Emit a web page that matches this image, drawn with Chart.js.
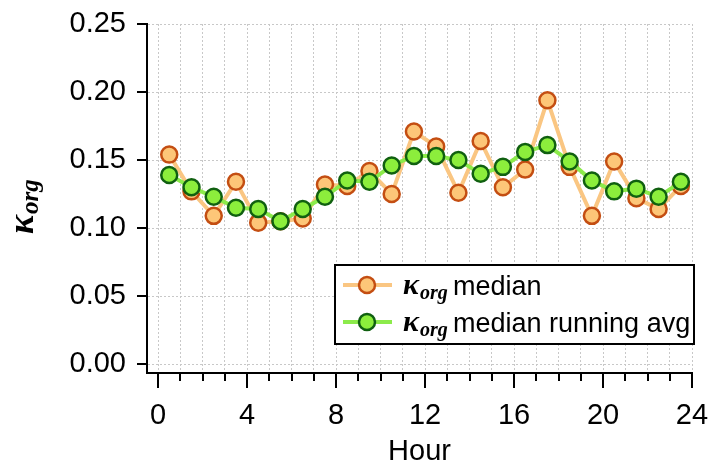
<!DOCTYPE html>
<html>
<head>
<meta charset="utf-8">
<script src="https://cdn.jsdelivr.net/npm/chart.js@4/dist/chart.umd.min.js"></script>
<style>
  html, body { margin: 0; padding: 0; background: #fff; }
  #wrap { width: 711px; height: 465px; position: relative; }
</style>
</head>
<body>
<div id="wrap"><canvas id="myChart"></canvas></div>
<script>
const hours = [0.5, 1.5, 2.5, 3.5, 4.5, 5.5, 6.5, 7.5, 8.5, 9.5, 10.5, 11.5,
               12.5, 13.5, 14.5, 15.5, 16.5, 17.5, 18.5, 19.5, 20.5, 21.5, 22.5, 23.5];
const kappaMedian = [0.154, 0.127, 0.109, 0.134, 0.104, 0.105, 0.107, 0.132, 0.131, 0.142, 0.125, 0.171,
                     0.160, 0.126, 0.164, 0.130, 0.143, 0.194, 0.145, 0.109, 0.149, 0.122, 0.114, 0.131];
const kappaRunningAvg = [0.139, 0.130, 0.123, 0.115, 0.114, 0.105, 0.114, 0.123, 0.135, 0.134, 0.146, 0.153,
                         0.153, 0.150, 0.140, 0.145, 0.156, 0.161, 0.149, 0.135, 0.127, 0.129, 0.123, 0.134];
const xTicks = [0, 1, 2, 3, 4, 5, 6, 7, 8, 9, 10, 11, 12, 13, 14, 15, 16, 17, 18, 19, 20, 21, 22, 23, 24];
const yTicks = [0, 0.05, 0.10, 0.15, 0.20, 0.25];
const legendNames = ['median', 'median running avg'];

const sansFont = "'Liberation Sans', Arial, sans-serif";
const serifFont = "'Liberation Serif', 'Times New Roman', serif";

const orange = { line: 'rgb(250,198,130)', fill: 'rgb(253,198,120)', edge: 'rgb(196,78,18)' };
const green = { line: 'rgb(140,235,75)', fill: 'rgb(140,238,60)', edge: 'rgb(16,96,16)' };

function toPoints(xs, ys) {
    return xs.map((x, i) => ({ x: x, y: ys[i] }));
}

// kappa with "org" subscript, drawn on the canvas
function drawKappa(ctx, x, y, big, small) {
    ctx.font = 'italic bold ' + big + 'px ' + serifFont;
    ctx.fillText('\u03BA', x, y);
    const w = ctx.measureText('\u03BA').width;
    ctx.font = 'italic bold ' + small + 'px ' + serifFont;
    ctx.fillText('org', x + w + 1, y + 5);
    return w + 1 + ctx.measureText('org').width;
}

const axisExtras = {
    id: 'axisExtras',
    afterDraw(chart) {
        const ctx = chart.ctx;
        const xs = chart.scales.x;
        const ys = chart.scales.y;
        const area = chart.chartArea;
        ctx.save();
        ctx.strokeStyle = '#000';
        ctx.lineWidth = 2;
        ctx.beginPath();
        yTicks.forEach(v => {
            const py = Math.round(ys.getPixelForValue(v));
            ctx.moveTo(area.left - 10, py);
            ctx.lineTo(area.left, py);
        });
        xTicks.forEach(v => {
            const px = Math.round(xs.getPixelForValue(v));
            ctx.moveTo(px, area.bottom);
            ctx.lineTo(px, area.bottom + (v % 4 === 0 ? 15 : 8));
        });
        ctx.stroke();

        // y title
        ctx.fillStyle = '#000';
        ctx.textBaseline = 'alphabetic';
        ctx.translate(33, 234);
        ctx.rotate(-Math.PI / 2);
        drawKappa(ctx, 0, 0, 36, 25);
        ctx.restore();

        // legend box
        ctx.save();
        const bx = 335, by = area.bottom - 108, bw = area.right + 2 - 335, bh = 79;
        ctx.fillStyle = '#fff';
        ctx.fillRect(bx, by, bw, bh);
        ctx.strokeStyle = '#000';
        ctx.lineWidth = 2;
        ctx.strokeRect(bx, by, bw, bh);
        const styles = [orange, green];
        styles.forEach((st, i) => {
            const cy = by + 20 + i * 37;
            ctx.strokeStyle = st.line;
            ctx.lineWidth = 4;
            ctx.beginPath();
            ctx.moveTo(bx + 8, cy);
            ctx.lineTo(bx + 57, cy);
            ctx.stroke();
            ctx.beginPath();
            ctx.arc(bx + 32, cy, 8, 0, Math.PI * 2);
            ctx.fillStyle = st.fill;
            ctx.fill();
            ctx.lineWidth = 2.5;
            ctx.strokeStyle = st.edge;
            ctx.stroke();
            ctx.fillStyle = '#000';
            ctx.textBaseline = 'alphabetic';
            drawKappa(ctx, bx + 68, cy + 9, 30, 20);
            ctx.font = '27px ' + sansFont;
            ctx.fillText(legendNames[i], bx + 118, cy + 10);
        });
        ctx.restore();
    }
};

const ctx = document.getElementById('myChart').getContext('2d');

const myChart = new Chart(ctx, {
    type: 'line',
    data: {
        datasets: [{
            label: legendNames[0],
            data: toPoints(hours, kappaMedian),
            borderColor: orange.line,
            borderWidth: 4,
            pointBackgroundColor: orange.fill,
            pointBorderColor: orange.edge,
            pointBorderWidth: 2.5,
            pointRadius: 8,
            order: 2
        }, {
            label: legendNames[1],
            data: toPoints(hours, kappaRunningAvg),
            borderColor: green.line,
            borderWidth: 4,
            pointBackgroundColor: green.fill,
            pointBorderColor: green.edge,
            pointBorderWidth: 2.5,
            pointRadius: 8,
            order: 1
        }]
    },
    options: {
        responsive: true,
        maintainAspectRatio: false,
        animation: false,
        events: [],
        layout: { padding: { top: 24, right: 19, left: 0, bottom: 0 } },
        plugins: {
            legend: { display: false },
            tooltip: { enabled: false }
        },
        scales: {
            x: {
                type: 'linear',
                min: -0.5,
                max: 24,
                afterBuildTicks: scale => { scale.ticks = xTicks.map(v => ({ value: v })); },
                afterFit: scale => {
                    scale.height = 92;
                    scale.paddingLeft = 0;
                    scale.paddingRight = 0;
                },
                grid: { color: '#c8c8c8', drawTicks: false, lineWidth: 1 },
                border: { display: true, color: '#000', width: 2, dash: [2, 2] },
                ticks: {
                    autoSkip: false,
                    maxRotation: 0,
                    padding: 26,
                    color: '#000',
                    font: { family: sansFont, size: 29 },
                    callback: v => (v % 4 === 0 ? String(v) : '')
                },
                title: {
                    display: true,
                    text: 'Hour',
                    color: '#000',
                    font: { family: sansFont, size: 29, lineHeight: 0.8 },
                    padding: { top: 0, bottom: 1 }
                }
            },
            y: {
                min: -0.0065,
                max: 0.25,
                afterBuildTicks: scale => { scale.ticks = yTicks.map(v => ({ value: v })); },
                afterFit: scale => {
                    scale.width = 147;
                    scale.paddingTop = 0;
                    scale.paddingBottom = 0;
                },
                grid: { color: '#c8c8c8', drawTicks: false, lineWidth: 1 },
                border: { display: true, color: '#000', width: 2, dash: [2, 2] },
                ticks: {
                    padding: 21,
                    color: '#000',
                    font: { family: sansFont, size: 29 },
                    callback: v => v.toFixed(2)
                }
            }
        }
    },
    plugins: [axisExtras]
});
</script>
</body>
</html>
